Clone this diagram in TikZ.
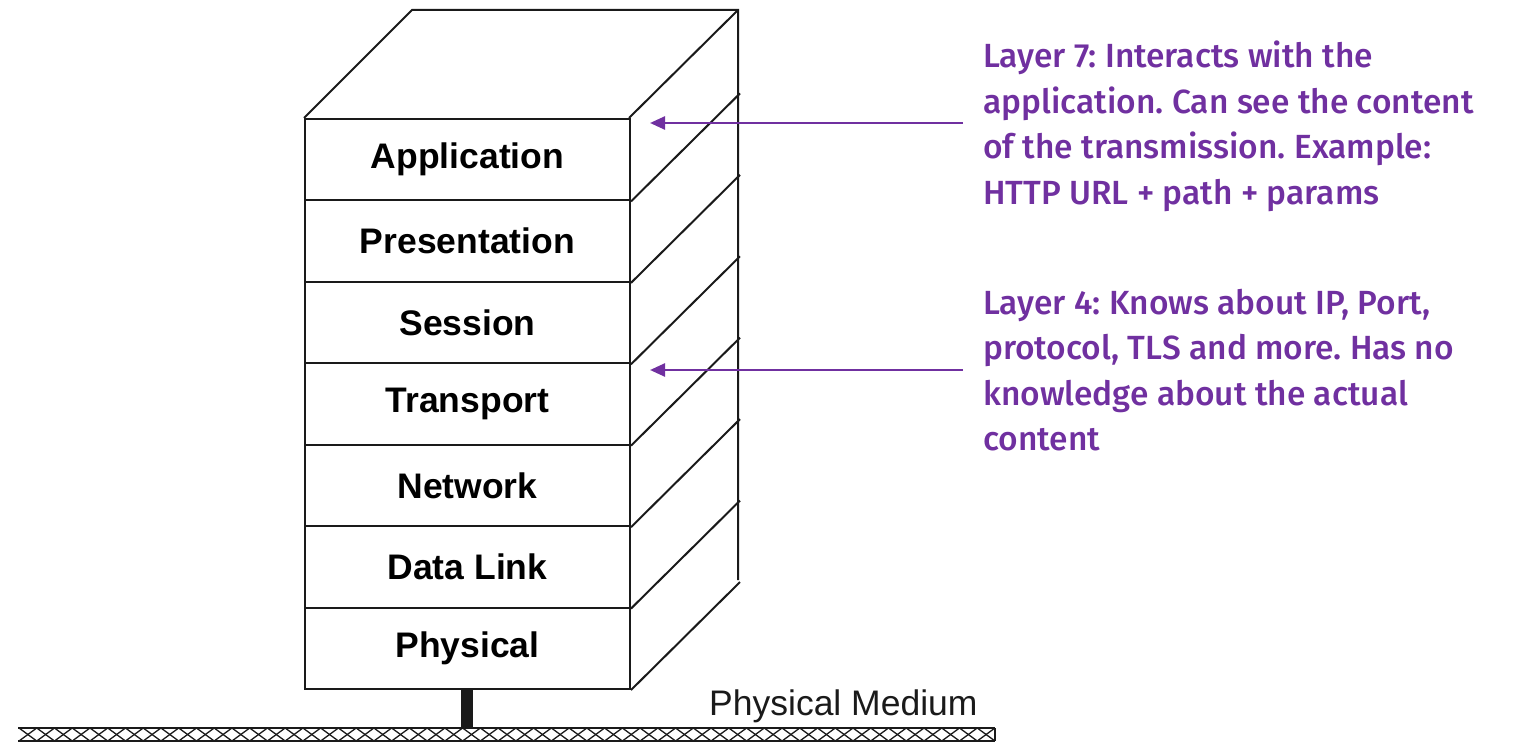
\documentclass[tikz,border=0pt]{standalone}
\usepackage{fontspec}
\setmainfont{Liberation Sans}
\newfontfamily\notefont{Fira Sans}[UprightFont={* Medium}]
\usetikzlibrary{arrows.meta}
\definecolor{notepurple}{HTML}{7030A0}
\definecolor{edge}{HTML}{1A1A1A}
\tikzset{
  edgeline/.style={draw=edge, line width=2pt, line join=miter},
  layerbox/.style={edgeline, fill=white, minimum width=325pt, minimum height=81.43pt, inner sep=0pt, anchor=north west,
    font=\fontsize{35.5}{35.5}\selectfont\bfseries},
  notetext/.style={text=notepurple, align=left, anchor=north west, inner sep=0pt,
    font=\notefont\fontsize{33.5}{45.5}\selectfont\frenchspacing},
  notearrow/.style={draw=notepurple, line width=2.5pt, -{Triangle[length=15pt,width=13pt]}},
}
\begin{document}
\begin{tikzpicture}[x=1pt,y=-1pt]
\useasboundingbox (0,0) rectangle (1530,743);
% top face and right back edge
\draw[edgeline] (304,118) -- (412,10) -- (738,10) -- (738,580);
\draw[edgeline] (629,118) -- (738,10);
% layers
\foreach \i/\name/\lab in {0/app/Application,1/pres/Presentation,2/sess/Session,3/trans/Transport,4/net/Network,5/dlink/Data Link,6/phys/Physical}{
  \node[layerbox] (\name) at (304,{118+\i*81.43}) {\lab};
  \draw[edgeline] (\name.south east) -- ++(109,-108);
}
% stem
\fill[edge] (461,688) rectangle (473,728);
% physical medium bar
\foreach \k in {0,...,54}{
  \draw[edge, line width=1.3pt] ({19+\k*17.745},728) -- ({19+(\k+1)*17.745},741);
  \draw[edge, line width=1.3pt] ({19+\k*17.745},741) -- ({19+(\k+1)*17.745},728);
}
\draw[edgeline, line width=1.6pt] (18,728) -- (995,728);
\draw[edgeline, line width=1.6pt] (18,741) -- (995,741);
\draw[edgeline, line width=1.6pt] (995,728) -- (995,741);
\node[anchor=base west, inner sep=0pt, font=\fontsize{35.5}{35.5}\selectfont, text=edge] (medium) at (709,715) {Physical Medium};
% notes
\node[notetext] (n7) at (983,41) {Layer 7: Interacts with the\\application. Can see the content\\of the transmission. Example:\\HTTP URL + path + params};
\node[notetext] (n4) at (983,289) {Layer 4: Knows about IP, Port,\\protocol, TLS and more. Has no\\knowledge about the actual\\content};
\coordinate (a7s) at (963,123);
\coordinate (a7e) at (650,123);
\coordinate (a4s) at (963,370);
\coordinate (a4e) at (650,370);
\draw[notearrow] (a7s) -- (a7e);
\draw[notearrow] (a4s) -- (a4e);
\end{tikzpicture}
\end{document}
